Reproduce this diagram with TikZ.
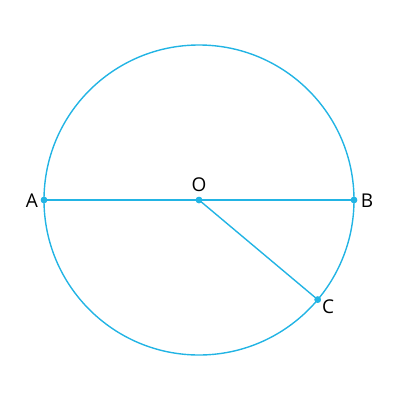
\documentclass[tikz,border=0pt]{standalone}
\usepackage{fontspec}
\setmainfont{Open Sans}
\definecolor{cy}{HTML}{22B4E4}
\begin{document}
\begin{tikzpicture}[x=1pt,y=-1pt,
  ln/.style={cy,line width=1.4pt},
  pt/.style={circle,fill=cy,inner sep=0pt,minimum size=6.5pt},
  lab/.style={font=\fontsize{19}{19}\selectfont,inner sep=0pt}]
\useasboundingbox (0,0) rectangle (400,400);
\node[pt] (O) at (199,200) {};
\node[pt] (A) at (44,200) {};
\node[pt] (B) at (354,200) {};
\node[pt] (C) at (317.7,299.6) {};
\draw[ln] (199,200) circle (155);
\draw[ln] (A.center) -- (B.center);
\draw[ln] (O.center) -- (C.center);
\node[pt] at (O) {};
\node[pt] at (A) {};
\node[pt] at (B) {};
\node[pt] at (C) {};
\node[lab] (la) at (32,201) {A};
\node[lab] (lb) at (367,201) {B};
\node[lab] (lo) at (199,185) {O};
\node[lab] (lc) at (328,307) {C};
\end{tikzpicture}
\end{document}
